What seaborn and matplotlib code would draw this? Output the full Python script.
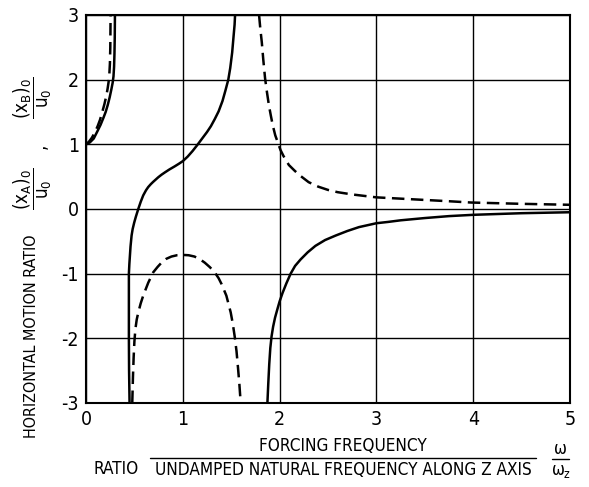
import os
import numpy as np
import pandas as pd
import matplotlib
matplotlib.use("Agg")
import matplotlib.pyplot as plt
import matplotlib.font_manager as fm
from matplotlib.lines import Line2D
import seaborn as sns

# ---------------- data ----------------
solid_b1_x = [0.0, 0.04, 0.08, 0.117, 0.15, 0.18, 0.203, 0.225, 0.245, 0.262, 0.275, 0.284,
              0.29, 0.294, 0.297, 0.299]
solid_b1_y = [1.0, 1.03, 1.09, 1.2, 1.3, 1.41, 1.5, 1.61, 1.73, 1.85, 1.95, 2.05,
              2.2, 2.4, 2.65, 3.0]

dashed_b1_x = [0.0, 0.03, 0.06, 0.09, 0.12, 0.145, 0.168, 0.19, 0.21, 0.223, 0.233, 0.241,
               0.247, 0.251, 0.2525, 0.254]
dashed_b1_y = [1.0, 1.04, 1.1, 1.18, 1.28, 1.38, 1.5, 1.62, 1.75, 1.86, 1.96, 2.08,
               2.25, 2.5, 2.75, 3.0]

solid_b2_x = [0.45, 0.445, 0.443, 0.443, 0.443, 0.448, 0.46, 0.471, 0.482, 0.498, 0.515, 0.54,
              0.565, 0.591, 0.62, 0.643, 0.67, 0.694, 0.72, 0.746, 0.78, 0.814, 0.86, 0.917,
              0.96, 1.0, 1.05, 1.10, 1.15, 1.20, 1.25, 1.29, 1.33, 1.37, 1.41, 1.44, 1.47,
              1.49, 1.51, 1.525, 1.535, 1.54]
solid_b2_y = [-3.0, -2.5, -2.0, -1.5, -1.0, -0.85, -0.58, -0.41, -0.31, -0.21, -0.12, 0.0,
              0.11, 0.21, 0.29, 0.34, 0.385, 0.42, 0.455, 0.49, 0.53, 0.565, 0.61, 0.66,
              0.70, 0.74, 0.81, 0.895, 0.99, 1.09, 1.19, 1.28, 1.39, 1.51, 1.67, 1.83, 2.0,
              2.18, 2.42, 2.68, 2.85, 3.0]

dashed_b2_x = [0.478, 0.485, 0.492, 0.50, 0.51, 0.524, 0.54, 0.565, 0.591, 0.643, 0.694, 0.74,
               0.78, 0.83, 0.883, 0.94, 1.0, 1.06, 1.12, 1.17, 1.227, 1.28, 1.33, 1.37,
               1.40, 1.45, 1.495, 1.517, 1.536, 1.555, 1.57, 1.585, 1.598]
dashed_b2_y = [-3.0, -2.6, -2.3, -2.05, -1.86, -1.71, -1.6, -1.46, -1.34, -1.14, -0.98, -0.895,
               -0.83, -0.77, -0.735, -0.715, -0.71, -0.715, -0.735, -0.77, -0.83, -0.9, -0.98, -1.07,
               -1.16, -1.34, -1.6, -1.78, -1.97, -2.2, -2.45, -2.72, -3.0]

solid_b3_x = [1.874, 1.883, 1.893, 1.904, 1.917, 1.933, 1.953, 1.977, 2.0, 2.03, 2.07, 2.114,
              2.16, 2.217, 2.29, 2.37, 2.47, 2.58, 2.7, 2.82, 3.0, 3.12, 3.25, 3.5, 3.75,
              4.0, 4.5, 5.0]
solid_b3_y = [-3.0, -2.7, -2.4, -2.15, -1.97, -1.82, -1.68, -1.55, -1.43, -1.3, -1.15, -1.0,
              -0.88, -0.78, -0.67, -0.57, -0.48, -0.41, -0.34, -0.28, -0.22, -0.2, -0.175, -0.14, -0.11,
              -0.09, -0.065, -0.05]

dashed_b3_x = [1.788, 1.80, 1.816, 1.832, 1.85, 1.87, 1.89, 1.91, 1.93, 1.955, 1.986, 2.01,
               2.04, 2.07, 2.096, 2.15, 2.2, 2.3, 2.4, 2.5, 2.6, 2.75, 3.0, 3.25, 3.5,
               3.75, 3.98, 4.5, 5.0]
dashed_b3_y = [3.0, 2.8, 2.58, 2.3, 2.02, 1.8, 1.6, 1.44, 1.29, 1.14, 1.01, 0.91,
               0.82, 0.745, 0.68, 0.6, 0.53, 0.415, 0.345, 0.295, 0.26, 0.225, 0.18, 0.16, 0.14,
               0.12, 0.10, 0.08, 0.065]

x_ticks = [0, 1, 2, 3, 4, 5]
y_ticks = [-3, -2, -1, 0, 1, 2, 3]

# ---------------- style ----------------
sns.set_style("white")
condensed = any(f.name == "DejaVu Sans" and "Condensed" in os.path.basename(f.fname)
                and "Bold" not in os.path.basename(f.fname) and "Oblique" not in os.path.basename(f.fname)
                for f in fm.fontManager.ttflist)
plt.rcParams["font.family"] = ["DejaVu Sans"]
plt.rcParams["text.color"] = "black"
plt.rcParams["xtick.color"] = "black"
plt.rcParams["ytick.color"] = "black"
if condensed:
    plt.rcParams["font.stretch"] = "condensed"
    plt.rcParams["mathtext.fontset"] = "custom"
    plt.rcParams["mathtext.rm"] = "DejaVu Sans:stretch=condensed"
    plt.rcParams["mathtext.it"] = "DejaVu Sans:stretch=condensed"
    plt.rcParams["mathtext.bf"] = "DejaVu Sans:stretch=condensed:weight=bold"
    fs, xfs, ffs, tfs = 11.5, 12.3, 13.5, 14
else:
    plt.rcParams["mathtext.fontset"] = "dejavusans"
    fs, xfs, ffs, tfs = 10.5, 11.2, 12.5, 13

W, H = 589, 487
fig = plt.figure(figsize=(W / 100, H / 100), dpi=100)
L, R, T, B = 86, 570, 15, 403
ax = fig.add_axes([L / W, 1 - B / H, (R - L) / W, (B - T) / H])

def px(x, y):
    return x / W, 1 - y / H

dash = (0, (5, 2.6))
branches = [
    (solid_b1_x, solid_b1_y, "-"),
    (solid_b2_x, solid_b2_y, "-"),
    (solid_b3_x, solid_b3_y, "-"),
    (dashed_b1_x, dashed_b1_y, dash),
    (dashed_b2_x, dashed_b2_y, dash),
    (dashed_b3_x, dashed_b3_y, dash),
]
for bx, by, ls in branches:
    df = pd.DataFrame({"x": bx, "y": by})
    sns.lineplot(data=df, x="x", y="y", ax=ax, color="black", linewidth=1.8,
                 linestyle=ls, sort=False, estimator=None, legend=False)

ax.set_xlim(0, 5)
ax.set_ylim(-3, 3)
ax.set_xticks(x_ticks)
ax.set_yticks(y_ticks)
ax.set_xticklabels([str(v) for v in x_ticks])
ax.set_yticklabels([str(v) for v in y_ticks])
ax.grid(True, color="black", linewidth=1.0)
ax.set_axisbelow(True)
for s in ax.spines.values():
    s.set_visible(True)
    s.set_color("black")
    s.set_linewidth(1.5)
ax.tick_params(axis="both", length=0, labelsize=tfs, colors="black")
ax.tick_params(axis="x", pad=5)
ax.tick_params(axis="y", pad=5)
ax.set_xlabel("")
ax.set_ylabel("")

# x-axis label
fig.text(*px(116, 469), "RATIO", ha="center", va="center", fontsize=xfs)
fig.text(*px(343, 446), "FORCING FREQUENCY", ha="center", va="center", fontsize=xfs)
fig.text(*px(343, 470), "UNDAMPED NATURAL FREQUENCY ALONG Z AXIS", ha="center", va="center", fontsize=xfs)
fig.add_artist(Line2D([150 / W, 536 / W], [1 - 458 / H, 1 - 458 / H], color="black", lw=1.0,
                      transform=fig.transFigure))
fig.text(*px(560, 449), "ω", ha="center", va="center", fontsize=xfs)
fig.add_artist(Line2D([552 / W, 569 / W], [1 - 459 / H, 1 - 459 / H], color="black", lw=1.0,
                      transform=fig.transFigure))
fig.text(*px(561, 471), r"$\omega_\mathrm{z}$", ha="center", va="center", fontsize=xfs)

# y-axis label
fig.text(*px(32, 336), "HORIZONTAL MOTION RATIO", ha="center", va="center", rotation=90, fontsize=fs)
fig.text(*px(33, 189), r"$\dfrac{(\mathrm{x_A})_0}{\mathrm{u_0}}$", ha="center", va="center",
         rotation=90, fontsize=ffs)
fig.text(*px(40, 146), ",", ha="center", va="center", rotation=90, fontsize=ffs)
fig.text(*px(33, 98), r"$\dfrac{(\mathrm{x_B})_0}{\mathrm{u_0}}$", ha="center", va="center",
         rotation=90, fontsize=ffs)

fig.savefig("out.png", dpi=100, facecolor="white")
